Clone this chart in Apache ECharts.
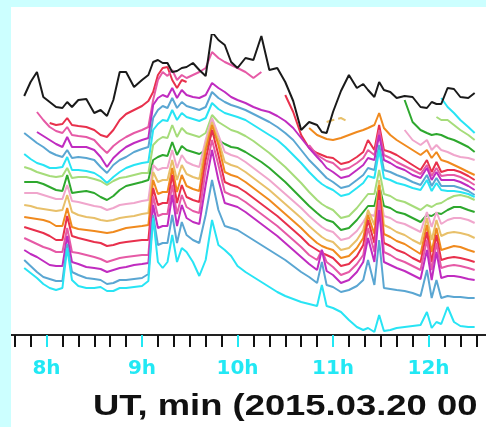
<!DOCTYPE html>
<html><head><meta charset="utf-8">
<script src="https://cdn.jsdelivr.net/npm/echarts@6/dist/echarts.min.js"></script>
<style>
html,body{margin:0;padding:0;background:#ccffff;width:486px;height:427px;overflow:hidden;}
#wrap{position:absolute;left:11px;top:7px;width:475px;height:420px;overflow:hidden;background:#fff;}
#chart{position:absolute;left:-65px;top:0;width:583px;height:420px;}
</style></head><body><div id="wrap"><div id="chart"></div></div>
<script>
// time in minutes UT
var minutes = [466,470,474,478,482,486,490,493,496,500,505,510,514,518,522,526,530,535,540,544,547,550,553,556,559,562,565,568,572,576,580,584,588,592,596,600,605,610,615,620,625,630,635,640,645,650,653,656,660,665,670,675,679,682,686,689,692,696,700,705,710,715,719,722,725,728,732,736,740,745,749];
var N = null;
var totalLevel = [239,253,263,238,233,228,227,233,228,235,236,222,225,219,235,263,263,248,255,260,273,275,272,272,263,264,267,268,272,265,259,303,295,290,273,267,277,275,299,265,267,253,234,205,213,210,203,202,223,244,260,247,251,245,238,253,245,243,237,239,238,228,227,233,231,231,247,246,238,237,242];
var chM5 = [N,N,N,N,N,N,N,N,N,N,N,N,N,N,N,N,N,N,N,N,N,N,N,N,N,N,N,N,N,N,N,N,N,N,N,N,N,N,N,N,N,N,N,N,N,N,N,N,N,N,N,N,N,N,N,N,N,N,N,N,N,N,N,N,N,237,228,222,215,208,202];
var chM4 = [N,N,N,N,N,N,N,N,N,N,N,N,N,N,N,N,N,N,N,N,N,N,N,N,N,N,N,N,N,N,N,N,N,N,N,N,N,N,N,N,N,N,N,N,N,N,N,N,N,N,N,N,N,N,N,N,N,N,N,N,N,N,N,N,218,215,215,210,205,200,195];
var chM3 = [N,N,N,N,N,N,N,N,N,N,N,N,N,N,N,N,N,N,N,N,N,N,N,N,N,N,N,N,N,N,N,N,N,N,N,N,N,N,N,N,N,N,N,N,N,N,N,N,N,N,N,N,N,N,N,N,N,N,N,235,213,205,202,200,201,200,197,195,192,188,183];
var chM2 = [N,N,N,N,N,N,N,N,N,N,N,N,N,N,N,N,N,N,N,N,N,N,N,N,N,N,N,N,N,N,N,N,N,N,N,N,N,N,N,N,N,N,N,N,N,N,N,N,N,N,N,N,N,N,N,N,N,N,N,205,195,190,195,185,190,185,183,180,178,177,175];
var chM1 = [N,N,N,N,N,N,N,N,N,N,N,N,N,N,N,N,N,N,N,N,N,N,N,N,N,N,N,N,N,N,N,N,N,N,N,N,N,N,N,N,N,N,N,N,N,N,N,213,215,217,213,N,N,N,N,N,N,N,N,N,N,N,N,N,N,N,N,N,N,N,N];
var ch0 = [N,N,N,N,N,N,N,N,N,N,N,N,N,N,N,N,N,N,N,N,N,N,N,N,N,N,N,N,N,N,N,N,N,N,N,N,N,N,N,N,N,N,N,N,207,200,198,196,195,197,200,203,205,207,210,222,207,200,195,190,185,180,185,177,183,175,173,170,167,163,160];
var ch1 = [N,N,N,N,212,210,211,217,210,209,208,205,200,198,205,215,221,225,229,234,243,260,267,268,255,247,255,253,N,N,N,N,N,N,N,N,N,N,N,N,N,240,223,200,187,182,180,178,177,171,173,178,183,195,185,210,185,183,180,175,170,165,175,163,173,163,165,165,163,159,155];
var ch2 = [N,N,223,215,208,204,202,208,200,199,198,195,188,182,189,194,198,202,205,208,235,255,263,259,265,255,260,257,260,263,267,283,277,273,270,267,263,257,263,N,N,N,N,N,190,180,177,174,172,165,167,172,177,185,180,205,180,177,173,169,165,161,170,159,167,159,160,160,158,154,150];
var ch3 = [N,N,203,199,195,191,188,198,188,188,188,185,178,168,177,183,188,192,195,197,230,237,240,238,247,237,245,240,238,237,240,252,247,243,238,235,232,228,225,223,219,214,207,197,187,178,173,167,163,157,159,165,170,177,175,200,175,172,168,165,160,157,167,155,163,155,155,155,153,149,145];
var ch4 = [202,197,192,188,183,180,178,185,177,178,177,175,168,162,170,175,178,183,186,188,217,225,229,227,237,227,233,229,227,225,228,243,237,233,230,228,225,221,217,213,208,202,195,185,175,167,162,157,153,147,149,155,160,167,165,190,165,163,160,157,153,150,160,149,157,149,149,149,147,144,140];
var ch5 = [181,176,172,170,167,167,168,178,165,165,164,162,158,152,158,163,167,170,172,173,205,211,215,214,225,215,222,218,216,214,217,232,226,222,220,218,215,210,205,200,195,188,180,172,163,155,151,148,145,139,141,147,152,159,157,185,157,155,152,150,147,145,155,144,152,145,144,144,143,141,138];
var ch6 = [168,166,163,161,159,158,159,167,157,158,158,156,154,150,154,157,158,160,162,162,190,195,198,197,210,198,207,202,200,198,202,220,213,209,205,203,199,194,188,182,175,168,160,152,143,135,131,128,125,117,119,127,135,141,141,165,141,139,135,133,129,125,130,128,131,132,136,139,140,138,135];
var ch7 = [153,153,153,151,148,145,144,160,142,143,144,142,138,135,139,145,149,151,153,155,175,178,180,179,193,180,189,185,183,181,185,203,195,191,188,187,183,178,173,167,160,153,145,137,129,122,118,115,113,105,107,115,123,129,129,150,129,127,123,121,117,113,120,119,122,121,125,128,128,125,123];
var ch8 = [142,142,142,140,138,136,136,150,134,133,131,129,128,125,127,130,131,132,134,135,170,165,167,167,185,167,180,173,170,168,195,217,200,183,180,178,173,167,161,155,148,141,134,127,119,112,108,105,103,95,97,104,113,121,119,145,119,117,113,111,107,103,123,108,123,111,115,117,117,115,112];
var ch9 = [130,129,127,126,125,124,125,140,123,120,118,117,115,114,115,117,118,119,121,122,163,153,155,155,175,155,170,161,158,156,190,213,195,173,170,168,163,157,151,145,138,131,124,117,109,102,98,95,93,85,87,95,105,125,110,155,110,107,103,100,95,91,117,95,115,99,102,103,102,100,97];
var ch10 = [118,117,116,115,113,109,109,127,108,106,105,104,103,102,103,105,107,108,109,110,155,141,143,143,167,143,160,149,146,144,185,210,190,163,160,158,153,147,141,135,128,121,114,107,99,92,89,87,85,77,79,87,97,120,101,150,101,98,94,91,86,81,110,83,107,85,87,89,88,85,83];
var ch11 = [108,106,104,102,99,95,95,119,99,97,95,93,92,89,90,92,93,94,95,95,147,130,132,132,160,132,150,138,135,133,175,205,180,153,150,148,143,137,131,125,119,112,105,98,90,85,82,80,77,69,71,79,90,115,92,145,92,89,85,82,77,73,103,73,100,75,77,78,77,75,73];
var ch12 = [97,94,91,88,86,83,83,107,83,82,80,78,76,73,75,77,78,79,80,80,139,119,121,121,150,121,140,128,124,122,165,195,170,143,140,138,133,127,121,115,109,102,95,88,80,75,85,73,68,60,63,71,80,107,83,135,83,80,76,73,69,65,95,65,92,67,69,70,69,67,65];
var ch13 = [85,81,78,74,70,69,69,99,73,71,68,67,66,63,65,67,68,70,71,72,130,107,109,109,140,109,130,117,113,111,150,185,155,132,130,128,123,117,111,105,99,92,85,78,71,65,85,64,60,52,55,63,73,97,73,125,73,70,67,64,60,56,85,55,83,57,59,59,58,56,55];
var ch14 = [75,69,63,58,56,54,54,91,63,60,57,56,55,51,52,55,55,56,57,61,120,90,92,92,120,92,113,100,95,92,120,155,125,109,107,105,100,95,90,85,80,75,69,63,58,52,73,50,48,43,45,49,55,75,50,95,47,46,45,44,42,39,65,37,55,37,39,38,38,37,37];
var ch15 = [67,62,57,51,47,45,47,87,55,49,47,47,48,44,44,47,47,48,49,54,117,73,67,73,100,73,87,83,73,59,75,115,90,85,79,69,63,58,53,48,43,39,36,33,31,29,50,29,27,23,15,8,5,7,3,20,4,5,7,8,9,10,23,7,13,11,28,13,9,8,8];
var channels = [chM5,chM4,chM3,chM2,chM1,ch0,ch1,ch2,ch3,ch4,ch5,ch6,ch7,ch8,ch9,ch10,ch11,ch12,ch13,ch14,ch15];
var channelNames = ['-5','-4','-3','-2','-1','0','1','2','3','4','5','6','7','8','9','10','11','12','13','14','15'];
var cycleColors = ['#f08a1e','#e8304c','#e65aa6','#c02cc0','#5aa6d2','#28e4f4','#a6dc7a','#2ea82e','#f0a6cc','#e8c06a'];
var axisTicks = {min:420, max:780, minor:10, major:60};
var titleText = 'UT, min (2015.03.20 00';

var chart = echarts.init(document.getElementById('chart'));
function pairs(v){return minutes.map(function(t,i){return [t,v[i]];});}
var series = channels.map(function(arr,k){
  var idx = parseInt(channelNames[k],10);
  var c = cycleColors[((idx%10)+10)%10];
  return {name:channelNames[k],type:'line',data:pairs(arr),symbol:'none',connectNulls:false,
    lineStyle:{color:c,width:2,type:(idx===-1?'dashed':'solid')},itemStyle:{color:c}};
});
series.push({name:'total',type:'line',data:pairs(totalLevel),symbol:'none',lineStyle:{color:'#1a1a1a',width:2},z:5});
chart.setOption({
  animation:false,
  grid:{left:5,right:5,top:28,bottom:92,containLabel:false,outerBoundsMode:'none'},
  xAxis:[{type:'value',min:axisTicks.min,max:axisTicks.max,interval:axisTicks.minor,
    axisLine:{lineStyle:{color:'#222',width:2}},
    axisTick:{length:12,lineStyle:{color:'#111',width:2}},
    axisLabel:{show:false},splitLine:{show:false}},
   {type:'value',min:axisTicks.min,max:axisTicks.max,interval:axisTicks.major,position:'bottom',
    axisLine:{show:false},
    axisTick:{length:12,lineStyle:{color:'#22e8f4',width:2}},
    axisLabel:{color:'#22e8f4',fontFamily:'DejaVu Sans',fontWeight:'bold',fontSize:20,margin:24,
      formatter:function(v){return (v/60)+'h';}},
    splitLine:{show:false}}],
  yAxis:{type:'value',min:0,max:300,show:false},
  graphic:[{type:'text',x:147,y:400,scaleX:1.255,
    style:{text:titleText,x:0,y:0,fill:'#111',font:'bold 29px "Liberation Sans"',align:'left',verticalAlign:'middle'}}],
  series:series
});
</script></body></html>
